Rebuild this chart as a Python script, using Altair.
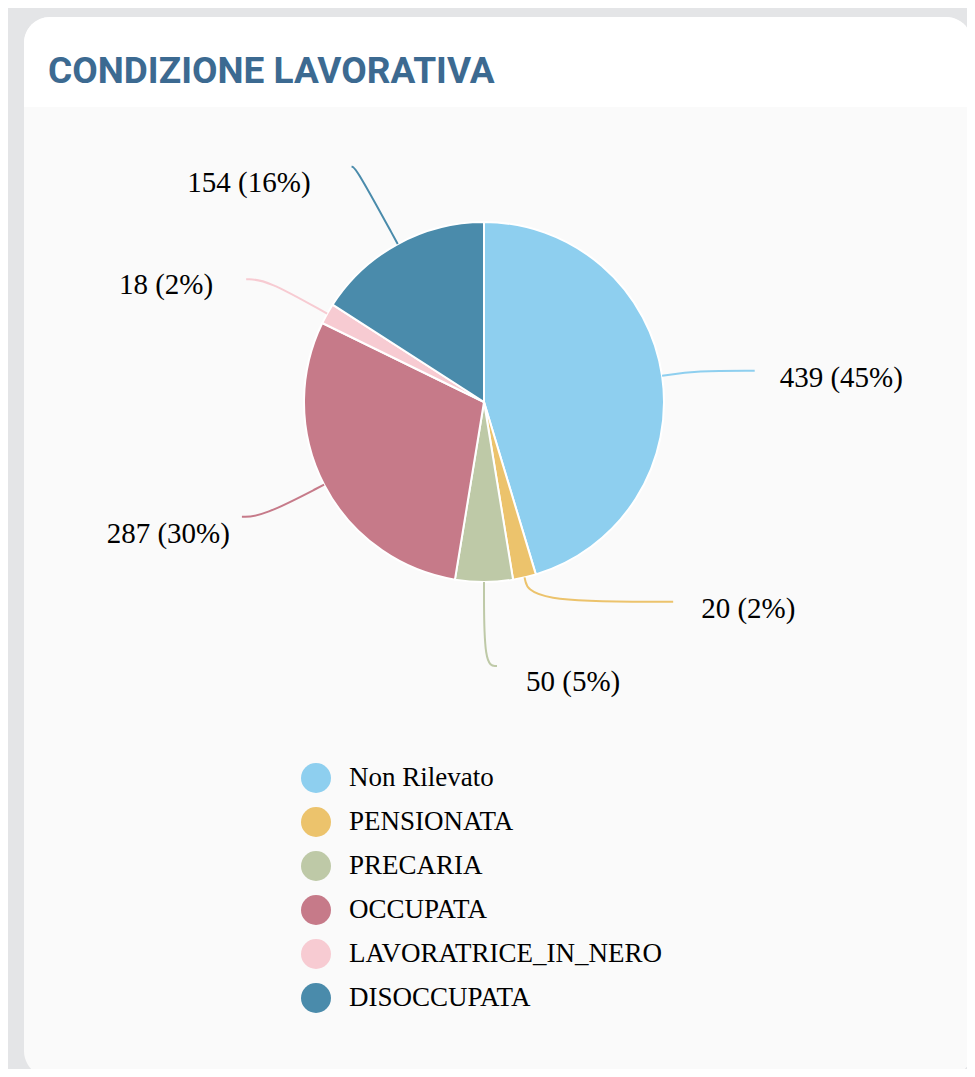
import altair as alt
import pandas as pd

# ---- data ----
categories = ["Non Rilevato", "PENSIONATA", "PRECARIA", "OCCUPATA",
              "LAVORATRICE_IN_NERO", "DISOCCUPATA"]
counts = [439, 20, 50, 287, 18, 154]
colors = ["#8ecfef", "#ecc36c", "#bec9a7", "#c67a89", "#f7cbd2", "#4a8bab"]
title_text = "CONDIZIONE LAVORATIVA"

# ---- layout (not data) ----
W, H = 959, 1061
CX, CY, R = 476, 394, 180
# per-label leader line layout: elbow radius, horizontal run, text gap, text dy
LABEL_LAYOUT = {
    "Non Rilevato": (215, 58, 25, 7),
    "PENSIONATA": (205, 143, 28, 7),
    "PRECARIA": (264, 13, 29, 16),
    "OCCUPATA": (250, 20, 12, 17),
    "LAVORATRICE_IN_NERO": (250, 20, 33, 6),
    "DISOCCUPATA": (268, 4, 41, 16),
}

df = pd.DataFrame({
    "cat": categories,
    "value": counts,
    "k": list(range(len(categories))),
    "r1": [LABEL_LAYOUT[c][0] for c in categories],
    "h": [LABEL_LAYOUT[c][1] for c in categories],
    "gap": [LABEL_LAYOUT[c][2] for c in categories],
    "dy": [LABEL_LAYOUT[c][3] for c in categories],
})

color_scale = alt.Scale(domain=categories, range=colors)
one = alt.Data(values=[{}])

card = alt.Chart(one).mark_rect(fill="#fafafa", cornerRadius=26).encode(
    x=alt.value(16), x2=alt.value(964), y=alt.value(9), y2=alt.value(1069))
band = alt.Chart(one).mark_rect(fill="#ffffff", cornerRadiusTopLeft=26,
                                cornerRadiusTopRight=26).encode(
    x=alt.value(16), x2=alt.value(964), y=alt.value(9), y2=alt.value(99))
title = alt.Chart(one).mark_text(
    text=title_text, font="Liberation Sans Narrow, Roboto, sans-serif",
    fontSize=37, fontWeight="bold", color="#3c6a91", align="left",
    baseline="alphabetic").encode(x=alt.value(40), y=alt.value(75))

pie = alt.Chart(df).mark_arc(outerRadius=R, stroke="white", strokeWidth=2).encode(
    theta=alt.Theta("value:Q", stack=True),
    order=alt.Order("k:Q"),
    color=alt.Color("cat:N", scale=color_scale, sort=categories,
                    legend=alt.Legend(
                        title=None, orient="none", legendX=293, legendY=755,
                        symbolType="circle", symbolSize=900, symbolStrokeWidth=0,
                        labelFont="Liberation Serif", labelFontSize=27,
                        labelColor="#000000", labelOffset=18, rowPadding=14,
                        padding=0, labelLimit=600)),
    x=alt.value(CX), y=alt.value(CY),
)

geo = alt.Chart(df).transform_joinaggregate(
    total="sum(value)"
).transform_window(
    cum="sum(value)", sort=[alt.SortField("k")], frame=[None, 0]
).transform_calculate(
    a="2*PI*(datum.cum - datum.value/2)/datum.total"
).transform_calculate(
    s="sin(datum.a) >= -1e-9 ? 1 : -1",
    x0=f"{CX} + {R}*sin(datum.a)",
    y0=f"{CY} - {R}*cos(datum.a)",
    x1=f"{CX} + datum.r1*sin(datum.a)",
    y1=f"{CY} - datum.r1*cos(datum.a)",
).transform_calculate(
    x2="datum.x1 + datum.s*datum.h",
    y2="datum.y1",
).transform_calculate(
    tx="datum.x2 + datum.s*datum.gap",
    ty="datum.y2 + datum.dy",
    label="datum.value + ' (' + round(100*datum.value/datum.total) + '%)'",
)

lines = geo.transform_calculate(
    xs="[datum.x0, datum.x1, datum.x2]",
    ys="[datum.y0, datum.y1, datum.y2]",
    idx="[0, 1, 2]",
).transform_flatten(["xs", "ys", "idx"]).mark_line(
    interpolate="basis", strokeWidth=2
).encode(
    x=alt.X("xs:Q", scale=None, axis=None),
    y=alt.Y("ys:Q", scale=None, axis=None),
    detail="cat:N",
    order=alt.Order("idx:Q"),
    color=alt.Color("cat:N", scale=color_scale, legend=None),
)

text_style = dict(font="Liberation Serif", fontSize=29, color="#000000",
                  baseline="middle")
labels_r = geo.transform_filter("datum.s > 0").mark_text(
    align="left", **text_style).encode(
    x=alt.X("tx:Q", scale=None, axis=None),
    y=alt.Y("ty:Q", scale=None, axis=None),
    text="label:N")
labels_l = geo.transform_filter("datum.s < 0").mark_text(
    align="right", **text_style).encode(
    x=alt.X("tx:Q", scale=None, axis=None),
    y=alt.Y("ty:Q", scale=None, axis=None),
    text="label:N")

chart = alt.layer(card, band, title, pie, lines, labels_r, labels_l).resolve_legend(
    color="independent"
).properties(
    width=W, height=H, padding=0, background="#e4e5e7",
    autosize=alt.AutoSizeParams(type="none"),
).configure_view(stroke=None)

chart.save("out.html", embed_options={"renderer": "svg", "actions": False})
